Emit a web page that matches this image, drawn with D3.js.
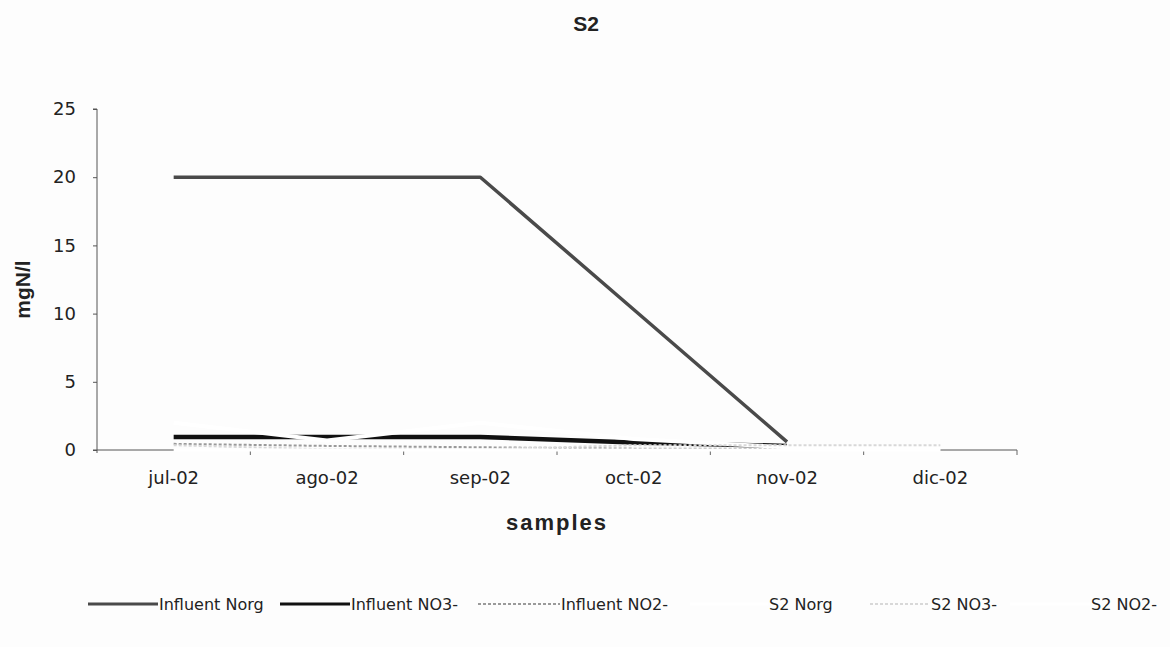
<!DOCTYPE html>
<html>
<head>
<meta charset="utf-8">
<script src="https://cdn.jsdelivr.net/npm/d3@7"></script>
<style>
  html, body { margin: 0; padding: 0; background: #fdfdfd; }
  svg { display: block; }
</style>
</head>
<body>
<svg id="chart" width="1170" height="647"></svg>
<script>
// ---- data ----
const categories = ["jul-02", "ago-02", "sep-02", "oct-02", "nov-02", "dic-02"];
const influentNorg = [20, 20, 20, 10.3, 0.6, null];
const influentNO3 = [0.95, 0.95, 0.95, 0.55, 0.3, null];
const influentNO2 = [0.45, 0.3, 0.2, 0.1, 0.1, null];
const s2Norg = [2.0, 0.7, 2.0, 0.8, 0.2, 0.1];
const s2NO3 = [0.35, 0.05, 0.05, 0.35, 0.35, 0.35];
const s2NO2 = [0, 0, 0, 0, 0, 0];
const yTicks = [0, 5, 10, 15, 20, 25];
const seriesNames = ["Influent Norg", "Influent NO3-", "Influent NO2-", "S2 Norg", "S2 NO3-", "S2 NO2-"];
const chartTitle = "S2";
const xTitle = "samples";
const yTitle = "mgN/l";

// ---- styles ----
const seriesStyle = [
  { color: "#4a4a4a", width: 3.5, dash: null },
  { color: "#111111", width: 4.5, dash: null },
  { color: "#9a9a9a", width: 2, dash: "3,2" },
  { color: "#ffffff", width: 4, dash: null },
  { color: "#d8d8d8", width: 2, dash: "3,2" },
  { color: "#ffffff", width: 3, dash: null }
];
const legendLayout = [
  { x1: 88, x2: 158 },
  { x1: 280, x2: 350 },
  { x1: 478, x2: 560 },
  { x1: 690, x2: 768 },
  { x1: 870, x2: 930 },
  { x1: 1010, x2: 1090 }
];

const seriesData = [influentNorg, influentNO3, influentNO2, s2Norg, s2NO3, s2NO2];

const svg = d3.select("#chart");
const plot = { left: 97, right: 1017, top: 109, bottom: 450 };

const x = d3.scaleBand().domain(categories).range([plot.left, plot.right]).padding(0);
const y = d3.scaleLinear().domain([0, 25]).range([plot.bottom, plot.top]);
const cx = c => x(c) + x.bandwidth() / 2;

const tickFont = "'DejaVu Sans', sans-serif";

// y axis
const yAxis = d3.axisLeft(y).tickValues(yTicks).tickSize(4).tickPadding(17).tickFormat(d3.format("d"));
const gy = svg.append("g").attr("transform", `translate(${plot.left},0)`).call(yAxis);
gy.select(".domain").attr("stroke", "#555").attr("stroke-width", 1).attr("d", `M-4,${plot.top}H0V${plot.bottom + 3}`);
gy.selectAll(".tick line").attr("stroke", "#555");
gy.selectAll(".tick text").attr("font-family", tickFont).attr("font-size", 18).attr("fill", "#222");

// x axis
const xAxis = d3.axisBottom(x).tickSize(0).tickPadding(21);
const gx = svg.append("g").attr("transform", `translate(0,${plot.bottom})`).call(xAxis);
gx.select(".domain").attr("stroke", "#555").attr("stroke-width", 1).attr("d", `M${plot.left - 4},0H${plot.right}`);
gx.selectAll(".tick text").attr("font-family", tickFont).attr("font-size", 18).attr("fill", "#222");
// category edge ticks
const edges = categories.map(c => x(c)).concat([plot.right]);
gx.selectAll(".edge").data(edges.slice(1)).enter().append("line")
  .attr("class", "edge").attr("x1", d => d).attr("x2", d => d).attr("y1", 0).attr("y2", 5)
  .attr("stroke", "#666").attr("stroke-width", 1);

// series lines
const line = d3.line()
  .defined(d => d.v !== null)
  .x(d => cx(d.c))
  .y(d => y(d.v));

seriesData.forEach((vals, i) => {
  const pts = categories.map((c, j) => ({ c, v: vals[j] }));
  const st = seriesStyle[i];
  const p = svg.append("path")
    .datum(pts)
    .attr("d", line)
    .attr("fill", "none")
    .attr("stroke", st.color)
    .attr("stroke-width", st.width)
    .attr("stroke-linejoin", "round");
  if (st.dash) p.attr("stroke-dasharray", st.dash);
});

// title
svg.append("text").attr("x", 586).attr("y", 31).attr("text-anchor", "middle")
  .attr("font-family", "'Liberation Sans', Arial, sans-serif").attr("font-weight", "bold")
  .attr("font-size", 21).attr("fill", "#222").text(chartTitle);

// x title
svg.append("text").attr("x", (plot.left + plot.right) / 2).attr("y", 530).attr("text-anchor", "middle")
  .attr("font-family", "'Liberation Sans', Arial, sans-serif").attr("font-weight", "bold")
  .attr("font-size", 22).attr("letter-spacing", 2).attr("fill", "#222").text(xTitle);

// y title
svg.append("text").attr("transform", `translate(30,${(plot.top + plot.bottom) / 2 + 10}) rotate(-90)`)
  .attr("text-anchor", "middle")
  .attr("font-family", "'Liberation Sans', Arial, sans-serif").attr("font-weight", "bold")
  .attr("font-size", 21).attr("fill", "#222").text(yTitle);

// legend
const legendY = 604;
const lg = svg.append("g");
seriesNames.forEach((name, i) => {
  const L = legendLayout[i];
  const st = seriesStyle[i];
  const ln = lg.append("line").attr("x1", L.x1).attr("x2", L.x2).attr("y1", legendY).attr("y2", legendY)
    .attr("stroke", st.color).attr("stroke-width", Math.min(st.width, 3));
  if (st.dash) ln.attr("stroke-dasharray", st.dash);
  lg.append("text").attr("x", L.x2 + 1).attr("y", legendY + 6)
    .attr("font-family", tickFont).attr("font-size", 16).attr("fill", "#222").text(name);
});
</script>
</body>
</html>
